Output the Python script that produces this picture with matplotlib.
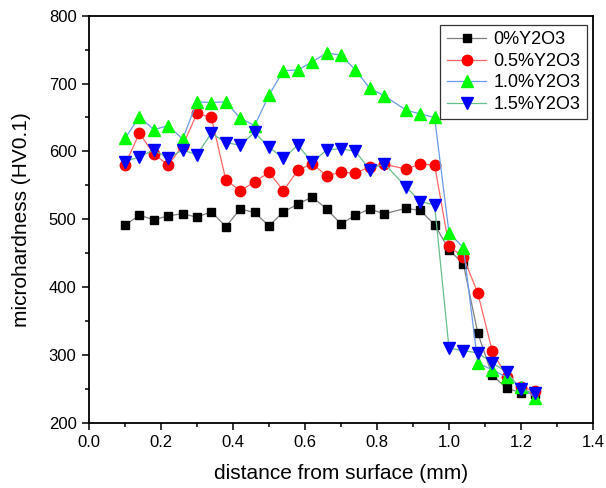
import numpy as np
import matplotlib
matplotlib.use("Agg")
import matplotlib.pyplot as plt
from matplotlib.ticker import MultipleLocator, FormatStrFormatter

plt.rcParams["font.family"] = ["Liberation Sans", "DejaVu Sans"]

# depth of each indent (mm) - 0.86 was not measured
depth = [0.10, 0.14, 0.18, 0.22, 0.26, 0.30, 0.34, 0.38, 0.42, 0.46,
         0.50, 0.54, 0.58, 0.62, 0.66, 0.70, 0.74, 0.78, 0.82, 0.88,
         0.92, 0.96, 1.00, 1.04, 1.08, 1.12, 1.16, 1.20, 1.24]

hv_0 = [491, 506, 499, 505, 508, 503, 511, 489, 515, 510,
        490, 511, 522, 533, 515, 493, 506, 515, 508, 516,
        513, 492, 455, 434, 332, 270, 251, 244, 243]
hv_05 = [580, 627, 596, 580, 608, 656, 650, 558, 542, 555,
         569, 542, 572, 582, 564, 569, 568, 577, 581, 574,
         581, 580, 460, 444, 391, 306, 268, 253, 246]
hv_10 = [619, 651, 632, 638, 618, 673, 672, 673, 649, 638,
         683, 719, 720, 732, 745, 742, 720, 693, 682, 661,
         655, 650, 480, 458, 288, 278, 267, 253, 237]
hv_15 = [585, 592, 602, 590, 602, 595, 627, 613, 609, 628,
         606, 590, 609, 584, 602, 604, 600, 573, 582, 548,
         526, 521, 310, 306, 303, 288, 275, 249, 244]

labels = ["0%Y2O3", "0.5%Y2O3", "1.0%Y2O3", "1.5%Y2O3"]

# (marker, marker colour, line colour, marker size)
styles = [
    ("s", "black", "#7f7f7f", 6.3),
    ("o", "#ff0000", "#ff6666", 7.5),
    ("^", "#00ff00", "#6a9be8", 8),
    ("v", "#0000ff", "#66bf8c", 8),
]

fig = plt.figure(figsize=(6.06, 4.88), dpi=100)
ax = fig.add_axes([89 / 606, 65.3 / 488, 504 / 606, 407 / 488])

for hv, lab, (mk, mc, lc, ms) in zip([hv_0, hv_05, hv_10, hv_15], labels, styles):
    ax.plot(depth, hv, color=lc, linewidth=0.9, marker=mk, markersize=ms,
            markerfacecolor=mc, markeredgecolor=mc, label=lab)

ax.set_xlim(0.0, 1.4)
ax.set_ylim(200, 800)
ax.xaxis.set_major_locator(MultipleLocator(0.2))
ax.xaxis.set_minor_locator(MultipleLocator(0.1))
ax.yaxis.set_major_locator(MultipleLocator(100))
ax.yaxis.set_minor_locator(MultipleLocator(50))
ax.xaxis.set_major_formatter(FormatStrFormatter("%.1f"))

ax.tick_params(which="major", direction="out", length=5, width=1.1,
               labelsize=12, colors="black", pad=4)
ax.tick_params(which="minor", direction="out", length=3, width=1.1)
ax.tick_params(top=False, right=False, which="both")
for sp in ax.spines.values():
    sp.set_linewidth(1.3)

ax.set_xlabel("distance from surface (mm)", fontsize=15, labelpad=10)
ax.set_ylabel("microhardness (HV0.1)", fontsize=15, labelpad=13)

leg = ax.legend(loc="upper right", bbox_to_anchor=(0.988, 0.977), fontsize=13,
                fancybox=False, framealpha=1, edgecolor="#333333",
                handlelength=2.2, handletextpad=0.4, borderpad=0.35,
                labelspacing=0.25, borderaxespad=0)
leg.get_frame().set_linewidth(0.9)

fig.savefig("out.png", dpi=100)
